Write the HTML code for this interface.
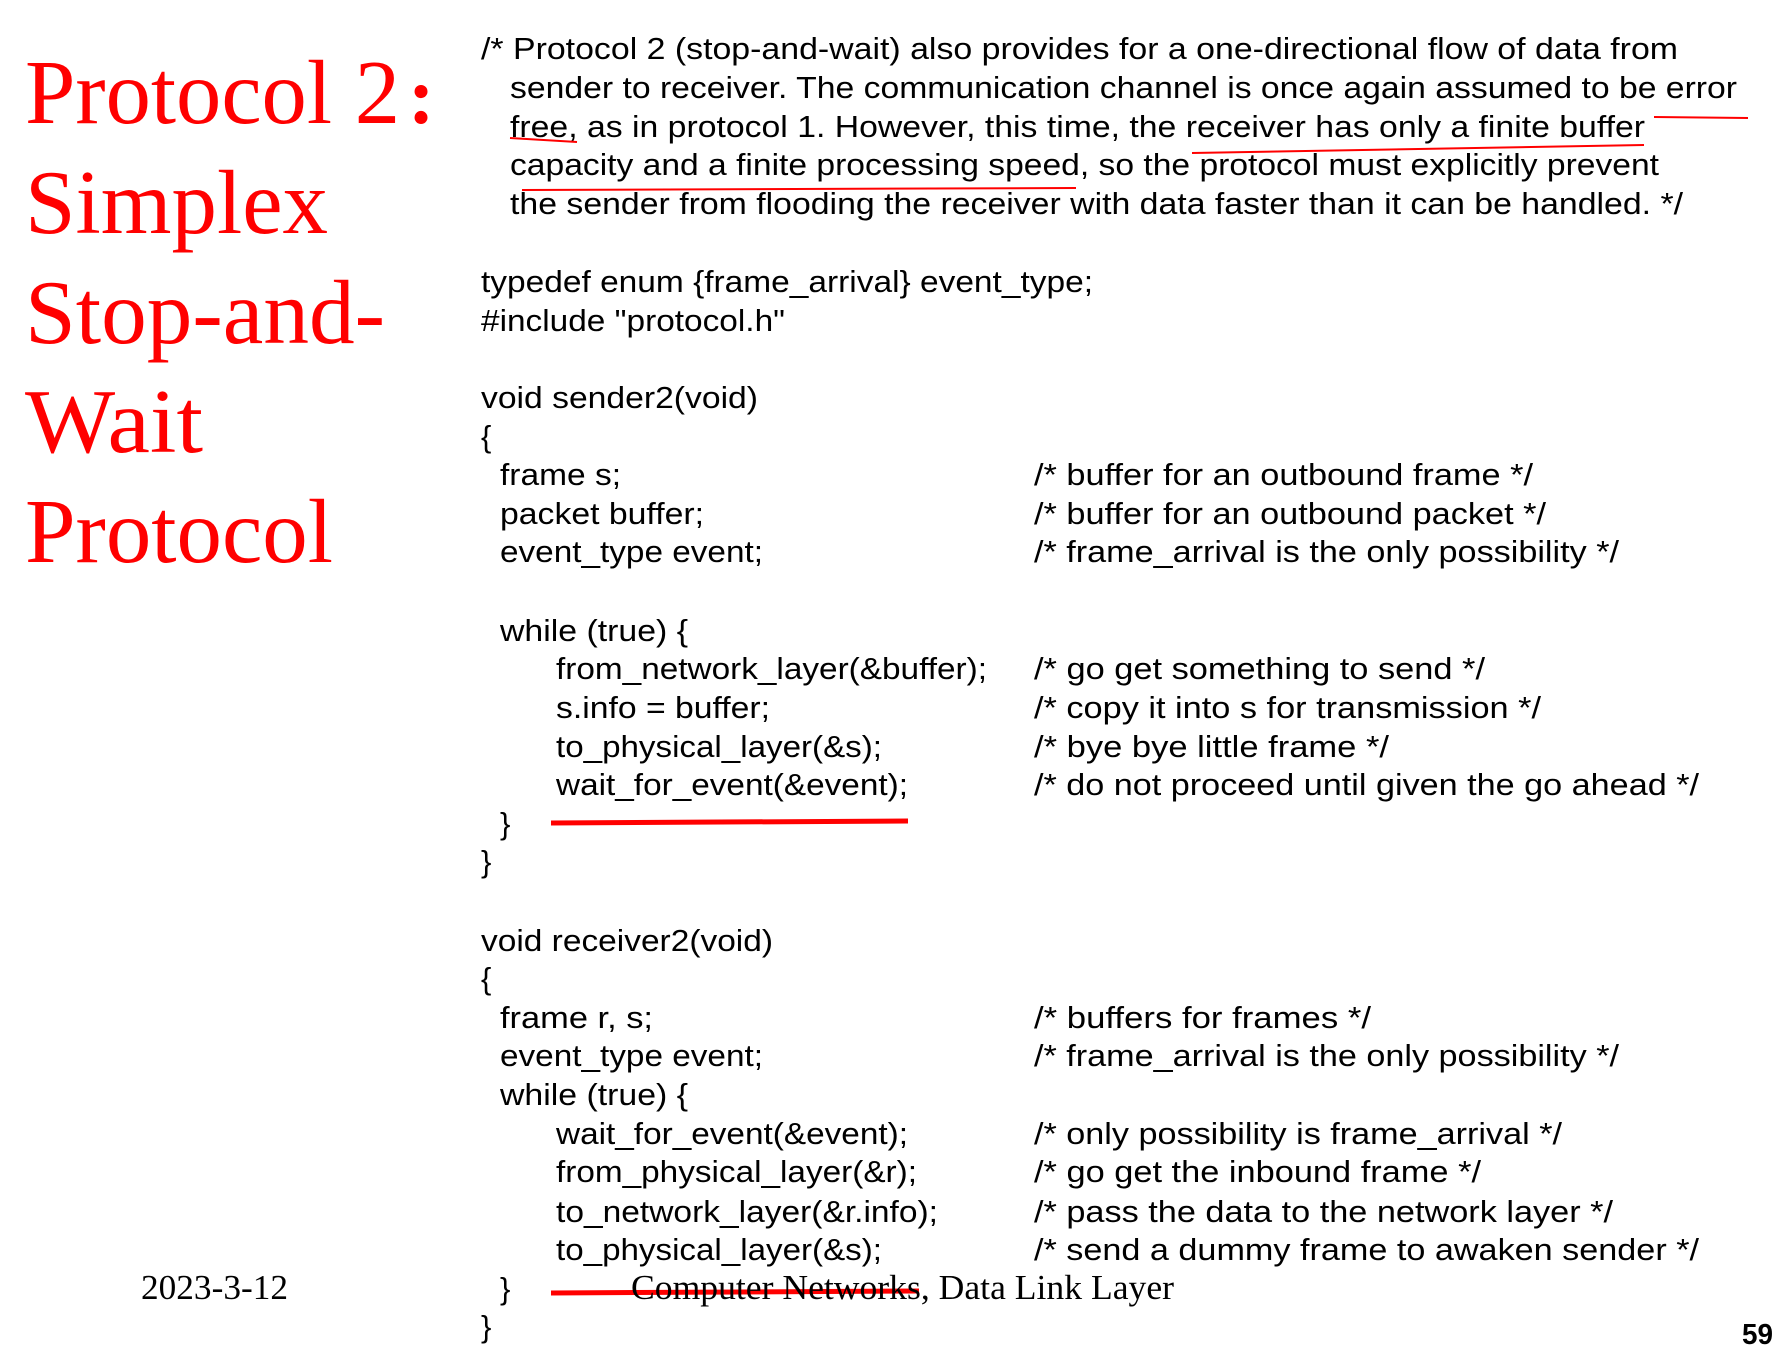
<!DOCTYPE html>
<html><head><meta charset="utf-8"><style>
html,body{margin:0;padding:0;background:#fff;}
svg{display:block}
.t{font-family:"Liberation Sans",Arial,sans-serif;font-size:31px;fill:#000}
.r{font-family:"Liberation Serif","Times New Roman",serif;font-size:91px;fill:#ff0000}
.f{font-family:"Liberation Serif","Times New Roman",serif;font-size:35px;fill:#000}
</style></head><body>
<svg width="1780" height="1356" viewBox="0 0 1780 1356" xmlns="http://www.w3.org/2000/svg">
<g class="r">
<text x="25" y="123" textLength="375" lengthAdjust="spacingAndGlyphs">Protocol 2</text>
<text x="408" y="123" font-weight="bold" font-size="80">:</text>
<text x="25" y="233" textLength="303" lengthAdjust="spacingAndGlyphs">Simplex</text>
<text x="25" y="343" textLength="360" lengthAdjust="spacingAndGlyphs">Stop-and-</text>
<text x="25" y="452" textLength="178" lengthAdjust="spacingAndGlyphs">Wait</text>
<text x="25" y="562" textLength="308" lengthAdjust="spacingAndGlyphs">Protocol</text>
</g>
<g class="t">
<text x="481" y="59" textLength="1197" lengthAdjust="spacingAndGlyphs">/* Protocol 2 (stop-and-wait) also provides for a one-directional flow of data from</text>
<text x="510" y="98" textLength="1227" lengthAdjust="spacingAndGlyphs">sender to receiver. The communication channel is once again assumed to be error</text>
<text x="510" y="137" textLength="1135" lengthAdjust="spacingAndGlyphs">free, as in protocol 1. However, this time, the receiver has only a finite buffer</text>
<text x="510" y="175" textLength="1149" lengthAdjust="spacingAndGlyphs">capacity and a finite processing speed, so the protocol must explicitly prevent</text>
<text x="510" y="214" textLength="1173" lengthAdjust="spacingAndGlyphs">the sender from flooding the receiver with data faster than it can be handled. */</text>
<text x="481" y="292" textLength="612" lengthAdjust="spacingAndGlyphs">typedef enum {frame_arrival} event_type;</text>
<text x="481" y="331" textLength="304" lengthAdjust="spacingAndGlyphs">#include "protocol.h"</text>
<text x="481" y="408" textLength="277" lengthAdjust="spacingAndGlyphs">void sender2(void)</text>
<text x="481" y="447">{</text>
<text x="500" y="485" textLength="121" lengthAdjust="spacingAndGlyphs">frame s;</text>
<text x="1034" y="485" textLength="499" lengthAdjust="spacingAndGlyphs">/* buffer for an outbound frame */</text>
<text x="500" y="524" textLength="204" lengthAdjust="spacingAndGlyphs">packet buffer;</text>
<text x="1034" y="524" textLength="512" lengthAdjust="spacingAndGlyphs">/* buffer for an outbound packet */</text>
<text x="500" y="562" textLength="263" lengthAdjust="spacingAndGlyphs">event_type event;</text>
<text x="1034" y="562" textLength="585" lengthAdjust="spacingAndGlyphs">/* frame_arrival is the only possibility */</text>
<text x="500" y="641" textLength="188" lengthAdjust="spacingAndGlyphs">while (true) {</text>
<text x="556" y="679" textLength="431" lengthAdjust="spacingAndGlyphs">from_network_layer(&amp;buffer);</text>
<text x="1034" y="679" textLength="451" lengthAdjust="spacingAndGlyphs">/* go get something to send */</text>
<text x="556" y="718" textLength="214" lengthAdjust="spacingAndGlyphs">s.info = buffer;</text>
<text x="1034" y="718" textLength="507" lengthAdjust="spacingAndGlyphs">/* copy it into s for transmission */</text>
<text x="556" y="757" textLength="326" lengthAdjust="spacingAndGlyphs">to_physical_layer(&amp;s);</text>
<text x="1034" y="757" textLength="355" lengthAdjust="spacingAndGlyphs">/* bye bye little frame */</text>
<text x="556" y="795" textLength="352" lengthAdjust="spacingAndGlyphs">wait_for_event(&amp;event);</text>
<text x="1034" y="795" textLength="665" lengthAdjust="spacingAndGlyphs">/* do not proceed until given the go ahead */</text>
<text x="500" y="834">}</text>
<text x="481" y="872">}</text>
<text x="481" y="951" textLength="292" lengthAdjust="spacingAndGlyphs">void receiver2(void)</text>
<text x="481" y="989">{</text>
<text x="500" y="1028" textLength="153" lengthAdjust="spacingAndGlyphs">frame r, s;</text>
<text x="1034" y="1028" textLength="337" lengthAdjust="spacingAndGlyphs">/* buffers for frames */</text>
<text x="500" y="1066" textLength="263" lengthAdjust="spacingAndGlyphs">event_type event;</text>
<text x="1034" y="1066" textLength="585" lengthAdjust="spacingAndGlyphs">/* frame_arrival is the only possibility */</text>
<text x="500" y="1105" textLength="188" lengthAdjust="spacingAndGlyphs">while (true) {</text>
<text x="556" y="1144" textLength="352" lengthAdjust="spacingAndGlyphs">wait_for_event(&amp;event);</text>
<text x="1034" y="1144" textLength="528" lengthAdjust="spacingAndGlyphs">/* only possibility is frame_arrival */</text>
<text x="556" y="1182" textLength="361" lengthAdjust="spacingAndGlyphs">from_physical_layer(&amp;r);</text>
<text x="1034" y="1182" textLength="447" lengthAdjust="spacingAndGlyphs">/* go get the inbound frame */</text>
<text x="556" y="1222" textLength="382" lengthAdjust="spacingAndGlyphs">to_network_layer(&amp;r.info);</text>
<text x="1034" y="1222" textLength="579" lengthAdjust="spacingAndGlyphs">/* pass the data to the network layer */</text>
<text x="556" y="1260" textLength="326" lengthAdjust="spacingAndGlyphs">to_physical_layer(&amp;s);</text>
<text x="1034" y="1260" textLength="665" lengthAdjust="spacingAndGlyphs">/* send a dummy frame to awaken sender */</text>
<text x="500" y="1299">}</text>
<text x="481" y="1337">}</text>
</g>
<g stroke="#ff0000" fill="none">
<line x1="510" y1="138" x2="577" y2="142" stroke-width="2"/>
<line x1="1654" y1="117" x2="1748" y2="118" stroke-width="2"/>
<line x1="1192" y1="153" x2="1644" y2="145" stroke-width="2"/>
<line x1="522" y1="190" x2="1076" y2="188" stroke-width="2"/>
<line x1="551" y1="823" x2="908" y2="821" stroke-width="5"/>
<line x1="551" y1="1293" x2="919" y2="1291" stroke-width="5"/>
</g>
<text class="f" x="141" y="1299" textLength="147" lengthAdjust="spacingAndGlyphs">2023-3-12</text>
<text class="f" x="631" y="1299" textLength="543" lengthAdjust="spacingAndGlyphs">Computer Networks, Data Link Layer</text>
<text x="1742" y="1344" font-family="Liberation Sans,Arial,sans-serif" font-weight="bold" font-size="29" textLength="31" lengthAdjust="spacingAndGlyphs">59</text>
</svg>
</body></html>
